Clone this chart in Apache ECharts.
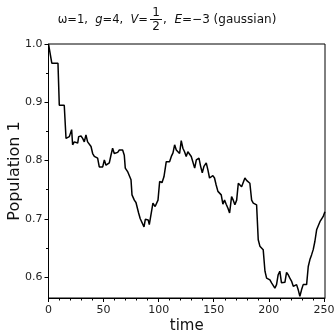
<!DOCTYPE html>
<html><head><meta charset="utf-8">
<script src="https://cdn.jsdelivr.net/npm/echarts@6/dist/echarts.min.js"></script>
<style>html,body{margin:0;padding:0;background:#fff}#c{width:336px;height:336px}</style>
</head><body><div id="c"></div>
<script>
const times = [0,1.4,3,8.6,9.8,14.3,15.9,17.4,18.9,20.2,21.0,21.9,23.4,25,26.5,27.4,29.5,31,32.5,34,35.5,37,38.6,40.1,41.6,43.1,44.6,46.1,47.6,49.2,50.7,52.2,53.7,55.2,56.7,58.2,59.7,61.3,62.8,64.3,65.8,67.3,68.8,69.7,71.8,73.3,74.9,75.8,77.9,79.4,81.8,83.3,84.5,86.7,87.9,89.7,90.5,91.5,94.8,96.3,96.8,99.4,100.9,103,104.8,106.9,108.4,109.9,111.5,113,114.5,116,117.5,119,120.5,122,123.5,125,126.5,128,129.6,131.1,132.7,134.2,135.7,136.6,138.1,139.6,141.1,143.2,144.7,146.2,147.7,149.2,150.7,152.2,153.8,155.3,156.8,158.3,159.8,161.3,162.9,164.4,166.2,167.7,169.2,170.8,172.3,173.8,175.3,176.8,178.3,179.8,181.3,182.8,184.4,185.9,187.4,188.9,190.4,191.9,193.4,194.9,196.5,198,199.5,201,202.5,204,205.5,207,208.5,210,211.5,213.1,214.6,216.1,217.6,219.1,220.6,222.2,223.7,225.2,226.7,228.2,229.7,231.2,232.8,234.3,235.8,237.3,238.8,240.3,241.8,243.4,244.9,246.4,247.9,249.4,250.9];
const population1 = [1.0,1.0,0.967,0.967,0.895,0.895,0.838,0.840,0.841,0.838,0.853,0.827,0.832,0.829,0.830,0.841,0.842,0.838,0.832,0.844,0.832,0.832,0.824,0.812,0.807,0.809,0.804,0.789,0.788,0.789,0.801,0.792,0.795,0.796,0.809,0.821,0.812,0.815,0.814,0.818,0.815,0.818,0.809,0.787,0.781,0.781,0.767,0.741,0.732,0.728,0.710,0.700,0.701,0.686,0.699,0.697,0.698,0.690,0.727,0.725,0.721,0.732,0.764,0.762,0.772,0.798,0.795,0.798,0.807,0.813,0.827,0.818,0.821,0.812,0.834,0.821,0.815,0.807,0.815,0.812,0.807,0.804,0.787,0.801,0.798,0.804,0.790,0.779,0.790,0.796,0.784,0.770,0.772,0.774,0.770,0.758,0.747,0.747,0.741,0.725,0.732,0.725,0.718,0.710,0.738,0.732,0.724,0.732,0.761,0.761,0.755,0.758,0.770,0.766,0.764,0.761,0.732,0.727,0.727,0.724,0.664,0.653,0.653,0.647,0.610,0.598,0.595,0.595,0.590,0.593,0.581,0.587,0.604,0.610,0.590,0.593,0.591,0.608,0.604,0.598,0.593,0.584,0.587,0.587,0.578,0.567,0.578,0.587,0.590,0.587,0.618,0.630,0.638,0.647,0.661,0.681,0.684,0.695,0.698,0.704,0.712];
const xTicks = [0,50,100,150,200,250];
const xMinorTicks = [10,20,30,40,60,70,80,90,110,120,130,140,160,170,180,190,210,220,230,240];
const yTicks = [0.6,0.7,0.8,0.9,1.0];
const yMinorTicks = [0.65,0.75,0.85,0.95];

const chart = echarts.init(document.getElementById('c'), null, {renderer:'canvas'});
const font = 'DejaVu Sans';
const lblColor = '#222';
const xMin = 0, xMax = 251, yMin = 0.564, yMax = 1.0;
chart.setOption({
  animation:false,
  grid:{left:48.5, right:11, top:44, bottom:38, containLabel:false, outerBoundsMode:'none',
    show:true, borderColor:'#000', borderWidth:1, backgroundColor:'transparent'},
  xAxis:[{
    type:'value', min:xMin, max:xMax,
    name:'time', nameLocation:'middle', nameGap:21, nameMoveOverlap:false,
    nameTextStyle:{fontFamily:font, fontSize:15, color:'#111'},
    axisLine:{show:true, lineStyle:{color:'#000', width:1}},
    axisTick:{show:true, length:4, customValues:xTicks, lineStyle:{color:'#000'}},
    axisLabel:{customValues:xTicks, fontFamily:font, fontSize:11, color:lblColor, margin:7},
    splitLine:{show:false}
  },{
    type:'value', min:xMin, max:xMax, position:'bottom', offset:0,
    axisLine:{show:false},
    axisTick:{show:true, length:2.5, customValues:xMinorTicks, lineStyle:{color:'#000'}},
    axisLabel:{show:false, customValues:xMinorTicks}, splitLine:{show:false}
  }],
  yAxis:[{
    type:'value', min:yMin, max:yMax,
    name:'Population 1', nameLocation:'middle', nameGap:26, nameMoveOverlap:false,
    nameTextStyle:{fontFamily:font, fontSize:16, color:'#111'},
    axisLine:{show:true, lineStyle:{color:'#000', width:1}},
    axisTick:{show:true, length:4, customValues:yTicks, lineStyle:{color:'#000'}},
    axisLabel:{customValues:yTicks, fontFamily:font, fontSize:11, color:lblColor, margin:6,
      formatter:v=>v.toFixed(1)},
    splitLine:{show:false}
  },{
    type:'value', min:yMin, max:yMax, position:'left', offset:0,
    axisLine:{show:false},
    axisTick:{show:true, length:2.5, customValues:yMinorTicks, lineStyle:{color:'#000'}},
    axisLabel:{show:false, customValues:yMinorTicks}, splitLine:{show:false}
  }],
  graphic:[
    {type:'text', x:148, y:20, style:{text:'ω=1,  {i|g}=4,  {i|V}=', align:'right', verticalAlign:'middle',
      font:'11.5px DejaVu Sans', fill:'#111', rich:{i:{fontStyle:'italic', fontFamily:font, fontSize:11.5, fill:'#111'}}}},
    {type:'text', x:156, y:13, style:{text:'1', align:'center', verticalAlign:'middle', font:'12px DejaVu Sans', fill:'#111'}},
    {type:'line', shape:{x1:150, y1:19.5, x2:162, y2:19.5}, style:{stroke:'#111', lineWidth:1}},
    {type:'text', x:156, y:26.5, style:{text:'2', align:'center', verticalAlign:'middle', font:'12px DejaVu Sans', fill:'#111'}},
    {type:'text', x:163, y:20, style:{text:',  {i|E}=−3 (gaussian)', align:'left', verticalAlign:'middle',
      font:'12px DejaVu Sans', fill:'#111', rich:{i:{fontStyle:'italic', fontFamily:font, fontSize:12, fill:'#111'}}}}
  ],
  series:[{
    type:'line', xAxisIndex:0, yAxisIndex:0, symbol:'none',
    data: times.map((t,i)=>[t, population1[i]]),
    lineStyle:{color:'#000', width:1.5}
  }]
});
</script></body></html>
